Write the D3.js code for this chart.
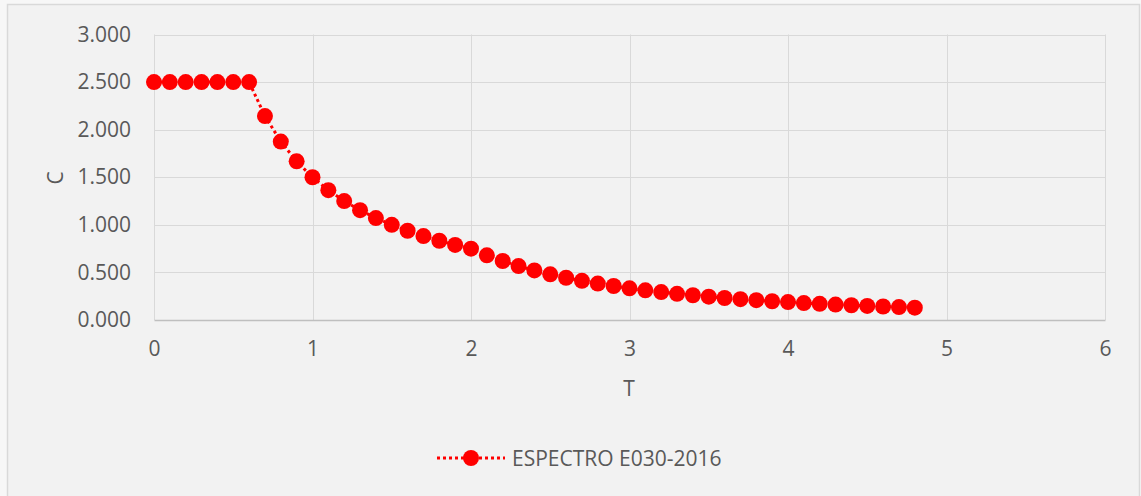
<!DOCTYPE html>
<html><head><meta charset="utf-8">
<script src="https://cdn.jsdelivr.net/npm/d3@7"></script>
<style>html,body{margin:0;padding:0;background:#fff;}svg{display:block;}</style>
</head><body>
<script>
const periods = [0,0.1,0.2,0.3,0.4,0.5,0.6,0.7,0.8,0.9,1.0,1.1,1.2,1.3,1.4,1.5,1.6,1.7,1.8,1.9,2.0,2.1,2.2,2.3,2.4,2.5,2.6,2.7,2.8,2.9,3.0,3.1,3.2,3.3,3.4,3.5,3.6,3.7,3.8,3.9,4.0,4.1,4.2,4.3,4.4,4.5,4.6,4.7,4.8];
const cValues = [2.5,2.5,2.5,2.5,2.5,2.5,2.5,2.143,1.875,1.667,1.5,1.364,1.25,1.154,1.071,1.0,0.938,0.882,0.833,0.789,0.75,0.680,0.620,0.567,0.521,0.48,0.444,0.412,0.383,0.357,0.333,0.312,0.293,0.275,0.260,0.245,0.231,0.219,0.208,0.197,0.188,0.178,0.170,0.162,0.155,0.148,0.142,0.136,0.130];
const xTicks = [0,1,2,3,4,5,6];
const yTicks = [0,0.5,1,1.5,2,2.5,3];
const seriesName = "ESPECTRO E030-2016";
const xTitle = "T", yTitle = "C";

const W = 1141, H = 496;
const svg = d3.select("body").append("svg").attr("width", W).attr("height", H);
svg.append("rect").attr("x",0).attr("y",0).attr("width",W).attr("height",H).attr("fill","#f7f7f7");
svg.append("rect").attr("x",7.5).attr("y",4.5).attr("width",1132).attr("height",500)
  .attr("fill","#f2f2f2").attr("stroke","#d9d9d9").attr("stroke-width",1.5);

const x = d3.scaleLinear().domain([0,6]).range([154,1105]);
const y = d3.scaleLinear().domain([0,3]).range([320,34.5]);
const font = "'Open Sans', sans-serif";
const txt = "#595959";
const fs = "21px";

// gridlines
const g = svg.append("g");
g.selectAll(".hg").data(yTicks.filter(d=>d>0)).join("line")
  .attr("x1",x(0)).attr("x2",x(6)).attr("y1",d=>Math.round(y(d))+0.5).attr("y2",d=>Math.round(y(d))+0.5)
  .attr("stroke","#d9d9d9").attr("stroke-width",1);
g.selectAll(".vg").data(xTicks).join("line")
  .attr("y1",y(3)).attr("y2",y(0)).attr("x1",d=>Math.round(x(d))+0.5).attr("x2",d=>Math.round(x(d))+0.5)
  .attr("stroke","#d9d9d9").attr("stroke-width",1);

// axes via d3
const xAxis = d3.axisBottom(x).tickValues(xTicks).tickSize(0).tickPadding(21).tickFormat(d3.format("d"));
const xa = svg.append("g").attr("transform",`translate(0,${y(0)})`).call(xAxis);
xa.select(".domain").attr("stroke","#bfbfbf").attr("stroke-width",1.5);
xa.selectAll("text").attr("fill",txt).style("font-family",font).style("font-size",fs);

const yAxis = d3.axisLeft(y).tickValues(yTicks).tickSize(0).tickPadding(23).tickFormat(d3.format(".3f"));
const ya = svg.append("g").attr("transform",`translate(${x(0)},0)`).call(yAxis);
ya.select(".domain").remove();
ya.selectAll("text").attr("fill",txt).style("font-family",font).style("font-size",fs);

// axis titles
svg.append("text").attr("x",629).attr("y",396).attr("text-anchor","middle")
  .attr("fill",txt).style("font-family",font).style("font-size",fs).text(xTitle);
svg.append("text").attr("transform","translate(63,178) rotate(-90)").attr("text-anchor","middle")
  .attr("fill",txt).style("font-family",font).style("font-size",fs).text(yTitle);

// series
const data = periods.map((t,i)=>({t, c:cValues[i]}));
const line = d3.line().x(d=>x(d.t)).y(d=>y(d.c));
svg.append("path").datum(data).attr("d",line).attr("fill","none")
  .attr("stroke","#ff0000").attr("stroke-width",3).attr("stroke-dasharray","3,3");
svg.selectAll(".pt").data(data).join("circle")
  .attr("cx",d=>x(d.t)).attr("cy",d=>y(d.c)).attr("r",8).attr("fill","#ff0000");

// legend
const ly = 458;
svg.append("line").attr("x1",437).attr("x2",505).attr("y1",ly).attr("y2",ly)
  .attr("stroke","#ff0000").attr("stroke-width",3).attr("stroke-dasharray","3,3");
svg.append("circle").attr("cx",471).attr("cy",ly).attr("r",8).attr("fill","#ff0000");
svg.append("text").attr("x",512).attr("y",ly+7.5).attr("fill",txt)
  .style("font-family",font).style("font-size",fs).text(seriesName);
</script>
</body></html>
